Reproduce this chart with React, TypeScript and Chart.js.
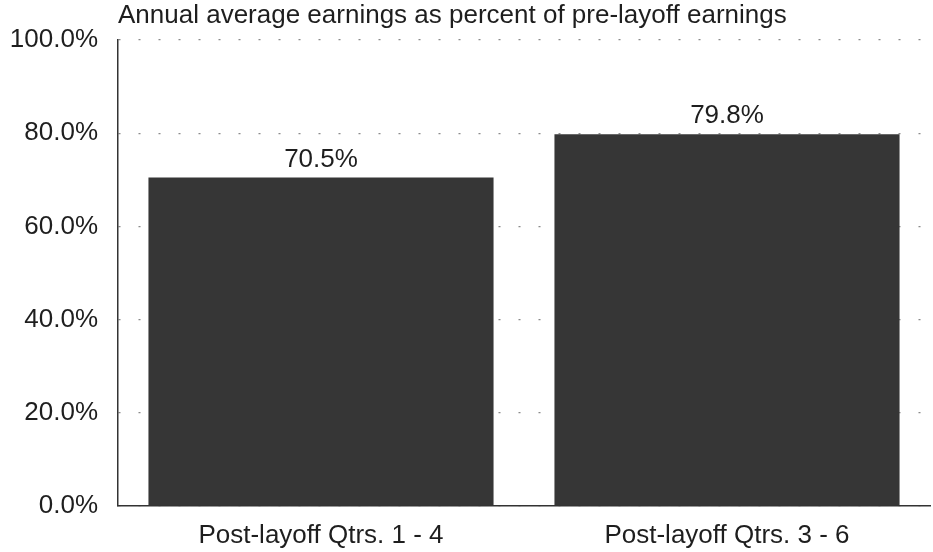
import React, { useEffect, useRef } from "react";
import { Chart, registerables } from "chart.js";

Chart.register(...registerables);

const categories = ["Post-layoff Qtrs. 1 - 4", "Post-layoff Qtrs. 3 - 6"];
const earningsPct = [70.5, 79.8];
const yTicks = [0, 20, 40, 60, 80, 100];
const titleText = "Annual average earnings as percent of pre-layoff earnings";

const FONT = "'Liberation Sans', Arial, Helvetica, sans-serif";
const FS = 26;

const overlayPlugin = {
  id: "overlay",
  afterDatasetsDraw(chart: any) {
    const { ctx, chartArea } = chart;
    ctx.save();
    ctx.fillStyle = "#1e1e1e";
    ctx.font = `${FS}px ${FONT}`;
    ctx.textAlign = "left";
    ctx.textBaseline = "middle";
    ctx.fillText(titleText, chartArea.left, 16);
    const meta = chart.getDatasetMeta(0);
    ctx.textAlign = "center";
    ctx.textBaseline = "bottom";
    meta.data.forEach((bar: any, i: number) => {
      ctx.fillText(earningsPct[i].toFixed(1) + "%", bar.x, bar.y - 5);
    });
    ctx.restore();
  },
};

export default function App() {
  const ref = useRef<HTMLCanvasElement>(null);
  useEffect(() => {
    const chart = new Chart(ref.current!, {
      type: "bar",
      data: {
        labels: categories,
        datasets: [
          {
            data: earningsPct,
            backgroundColor: "#363636",
            borderWidth: 0,
            categoryPercentage: 0.85,
            barPercentage: 1,
          },
        ],
      },
      options: {
        animation: false,
        responsive: false,
        maintainAspectRatio: false,
        layout: { padding: { top: 40, right: 3, left: 0, bottom: 0 } },
        plugins: { legend: { display: false }, tooltip: { enabled: false }, title: { display: false } },
        scales: {
          x: {
            afterFit(scale: any) {
              scale.height = 46;
            },
            grid: { display: false, drawTicks: false },
            border: { display: true, color: "#333", width: 1.5 },
            ticks: { color: "#1e1e1e", font: { family: FONT, size: FS }, padding: 14 },
          },
          y: {
            min: 0,
            max: 100,
            afterBuildTicks(scale: any) {
              scale.ticks = yTicks.map((v) => ({ value: v }));
            },
            afterFit(scale: any) {
              scale.width = 118;
            },
            grid: {
              color: "#8a8a8a",
              lineWidth: 1.3,
              drawTicks: false,
            },
            border: { display: true, color: "#333", width: 1.5, dash: [2, 18] },
            ticks: {
              color: "#1e1e1e",
              font: { family: FONT, size: FS },
              padding: 20,
              callback: (v: any) => Number(v).toFixed(1) + "%",
            },
          },
        },
      },
      plugins: [overlayPlugin],
    } as any);
    return () => chart.destroy();
  }, []);
  return (
    <div style={{ position: "absolute", left: 0, top: 0, width: 933, height: 552, background: "#fff" }}>
      <canvas ref={ref} width={933} height={552} />
    </div>
  );
}
